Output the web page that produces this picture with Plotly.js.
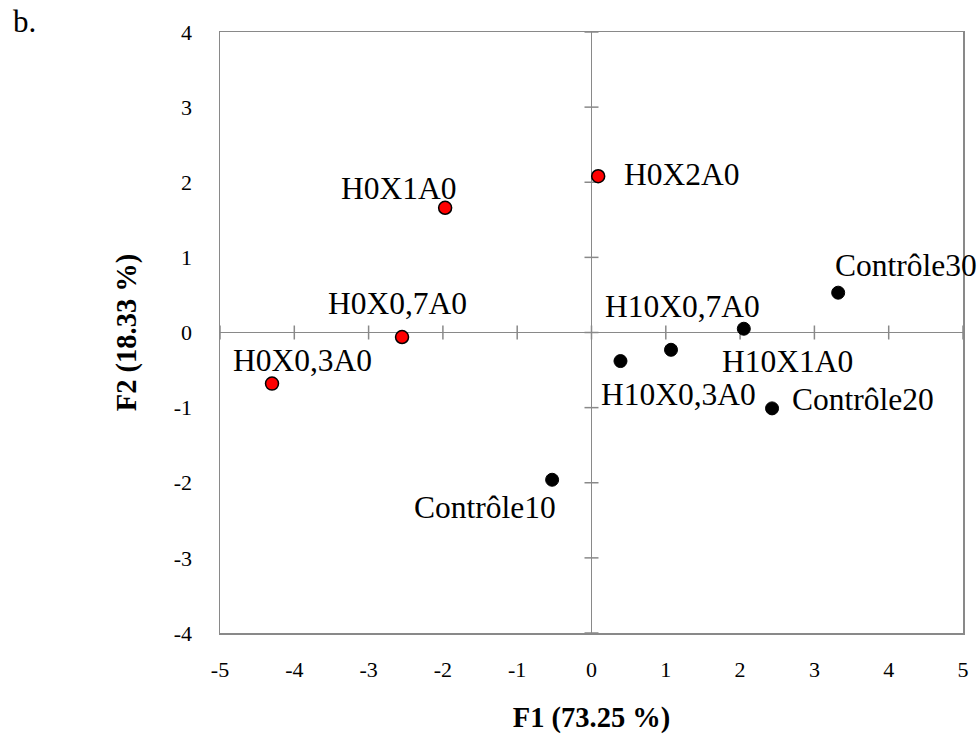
<!DOCTYPE html>
<html>
<head>
<meta charset="utf-8">
<script src="https://cdn.plot.ly/plotly-3.0.1.min.js"></script>
<style>
  html, body { margin: 0; padding: 0; background: #ffffff; }
  #chart { width: 980px; height: 734px; }
</style>
</head>
<body>
<div id="chart"></div>
<script>
// ---- Data ----
const redNames = ["H0X0,3A0", "H0X0,7A0", "H0X1A0", "H0X2A0"];
const redF1 = [-4.30, -2.55, -1.97, 0.09];
const redF2 = [-0.68, -0.06, 1.66, 2.08];

const blackNames = ["Contrôle10", "H10X0,3A0", "H10X0,7A0", "H10X1A0", "Contrôle20", "Contrôle30"];
const blackF1 = [-0.53, 0.39, 1.07, 2.05, 2.43, 3.32];
const blackF2 = [-1.96, -0.38, -0.23, 0.05, -1.01, 0.53];

const xTickVals = [-5, -4, -3, -2, -1, 0, 1, 2, 3, 4, 5];
const xTickText = ["-5", "-4", "-3", "-2", "-1", "0", "1", "2", "3", "4", "5"];
const yTickVals = [-4, -3, -2, -1, 0, 1, 2, 3, 4];
const yTickText = ["-4", "-3", "-2", "-1", "0", "1", "2", "3", "4"];

const xTitle = "F1 (73.25 %)";
const yTitle = "F2 (18.33 %)";
const panelLabel = "b.";

// label offsets in pixels (placement only, not data)
const redLabelShift = [[30, 23], [-5, 34], [-46, 19], [84, 2]];
const blackLabelShift = [[-67, -28], [58, -33], [11, 43], [44, -33], [91, 9], [68, 27]];

// ---- Styling ----
const FONT = 'Liberation Serif, Times New Roman, serif';
const AX = '#898989';
const TICK_HALF = 7;
const TICK_FONT_SIZE = 22;

const traces = [
  {
    type: 'scatter', mode: 'markers', name: 'H0',
    x: redF1, y: redF2, text: redNames,
    marker: { size: 13, color: '#ff0000', line: { color: '#000000', width: 1.5 } },
    hoverinfo: 'text+x+y'
  },
  {
    type: 'scatter', mode: 'markers', name: 'H10 / Contrôle',
    x: blackF1, y: blackF2, text: blackNames,
    marker: { size: 13, color: '#000000', line: { color: '#000000', width: 1 } },
    hoverinfo: 'text+x+y'
  }
];

const annotations = [];
redNames.forEach((n, i) => annotations.push({
  x: redF1[i], y: redF2[i], xref: 'x', yref: 'y', text: n, showarrow: false,
  xshift: redLabelShift[i][0], yshift: redLabelShift[i][1],
  xanchor: 'center', yanchor: 'middle',
  font: { family: FONT, size: 31.5, color: '#000000' }
}));
blackNames.forEach((n, i) => annotations.push({
  x: blackF1[i], y: blackF2[i], xref: 'x', yref: 'y', text: n, showarrow: false,
  xshift: blackLabelShift[i][0], yshift: blackLabelShift[i][1],
  xanchor: 'center', yanchor: 'middle',
  font: { family: FONT, size: 31.5, color: '#000000' }
}));
annotations.push({
  x: -0.2813, y: 1.0175, xref: 'paper', yref: 'paper', text: panelLabel, showarrow: false,
  xanchor: 'left', yanchor: 'middle',
  font: { family: FONT, size: 31, color: '#000000' }
});

// small tick marks crossing the zero lines (pixel-sized, placed at the tick values)
const shapes = [];
xTickVals.forEach(v => shapes.push({
  type: 'line', layer: 'below', xref: 'x', yref: 'y',
  x0: v, x1: v, ysizemode: 'pixel', yanchor: 0, y0: -TICK_HALF, y1: TICK_HALF,
  line: { color: AX, width: 1.5 }
}));
yTickVals.forEach(v => shapes.push({
  type: 'line', layer: 'below', xref: 'x', yref: 'y',
  y0: v, y1: v, xsizemode: 'pixel', xanchor: 0, x0: -TICK_HALF, x1: TICK_HALF,
  line: { color: AX, width: 1.5 }
}));

const layout = {
  width: 980, height: 734,
  margin: { l: 220, r: 17, t: 32, b: 101 },
  paper_bgcolor: '#ffffff', plot_bgcolor: '#ffffff',
  showlegend: false,
  font: { family: FONT, size: TICK_FONT_SIZE, color: '#000000' },
  xaxis: {
    range: [-5, 5], tickmode: 'array', tickvals: xTickVals, ticktext: xTickText,
    ticks: '', ticklabelstandoff: 16,
    showline: true, mirror: true, linecolor: AX, linewidth: 1.5,
    showgrid: false, zeroline: true, zerolinecolor: AX, zerolinewidth: 1.5,
    tickfont: { family: FONT, size: TICK_FONT_SIZE, color: '#000000' },
    title: { text: xTitle, standoff: 26, font: { family: FONT, size: 28.5, color: '#000000', weight: 'bold' } },
    automargin: false
  },
  yaxis: {
    range: [-4, 4], tickmode: 'array', tickvals: yTickVals, ticktext: yTickText,
    ticks: '', ticklabelstandoff: 22,
    showline: true, mirror: true, linecolor: AX, linewidth: 1.5,
    showgrid: false, zeroline: true, zerolinecolor: AX, zerolinewidth: 1.5,
    tickfont: { family: FONT, size: TICK_FONT_SIZE, color: '#000000' },
    title: { text: yTitle, standoff: 29, font: { family: FONT, size: 28.5, color: '#000000', weight: 'bold' } },
    automargin: false
  },
  shapes: shapes,
  annotations: annotations
};

Plotly.newPlot('chart', traces, layout, { staticPlot: true, displayModeBar: false });
</script>
</body>
</html>
